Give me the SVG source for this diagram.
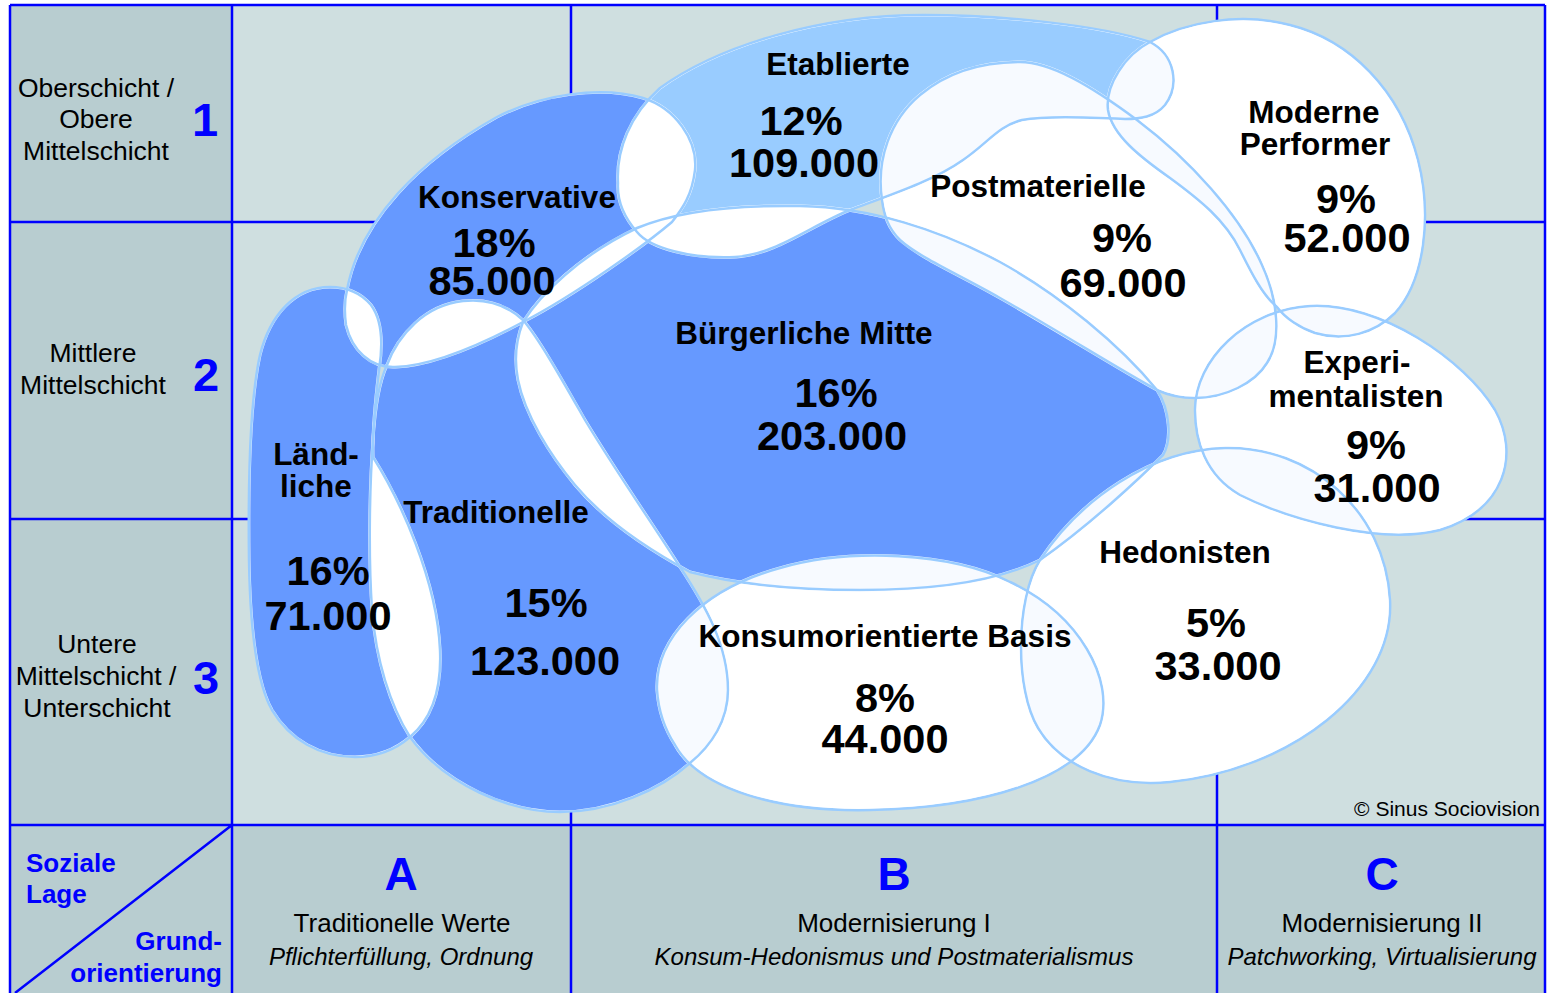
<svg xmlns="http://www.w3.org/2000/svg" xmlns:xlink="http://www.w3.org/1999/xlink" width="1547" height="993" viewBox="0 0 1547 993">
<style>
text{font-family:"Liberation Sans",Arial,Helvetica,sans-serif;}
.lbl{font-weight:bold;font-size:31.5px;text-anchor:middle;fill:#000;}
.num{font-weight:bold;font-size:41.5px;text-anchor:middle;fill:#000;}
.row{font-size:26.5px;text-anchor:middle;fill:#000;}
.rn{font-weight:bold;font-size:47px;text-anchor:middle;fill:#0000ff;}
.cl{font-weight:bold;font-size:46px;text-anchor:middle;fill:#0000ff;}
.ct{font-size:26px;text-anchor:middle;fill:#000;}
.cs{font-size:24px;font-style:italic;text-anchor:middle;fill:#000;}
.cor{font-weight:bold;font-size:26px;fill:#0000ff;}
.cp{font-size:21px;text-anchor:end;fill:#000;}
.grid{stroke:#0000ff;stroke-width:2.5;fill:none;}
.ol{fill:none;stroke:#99ccff;stroke-width:2.5;}
.mw{fill:#fff;stroke:#000;stroke-width:3;}
.mb{fill:#000;stroke:#000;stroke-width:3;}
.blue{fill:#6699ff;}
.lblue{fill:#99ccff;}
.white{fill:#ffffff;}
</style>
<defs>
<path id="pL" d="M 330,287 C 345,287 360,292 371,305 C 382,320 383,345 379,370 C 376,395 372,430 373,457 C 400,500 437,580 440,650 C 442,695 428,722 410,737 C 395,750 375,757 355,757 C 320,757 290,740 272,710 C 255,680 250,620 249,560 C 248,480 250,400 260,355 C 270,315 295,287 330,287 Z"/>
<path id="pT" d="M 387,365 C 398,335 425,305 463,301 C 490,298 510,308 523,320 C 540,340 565,385 585,420 C 615,470 650,520 680,567 C 705,605 728,645 728,690 C 728,720 712,745 690,763 C 660,790 610,812 560,812 C 510,812 445,785 410,737 C 390,705 376,660 372,610 C 368,550 370,480 373,440 C 375,405 380,380 387,365 Z"/>
<path id="pK" d="M 347,290 C 360,220 420,160 497,117 C 540,95 600,85 643,98 C 675,108 698,140 695,170 C 692,195 683,208 672,222 C 645,245 575,295 523,322 C 480,345 430,366 395,367 C 370,368 352,350 346,325 C 344,310 345,298 347,290 Z"/>
<path id="pE" d="M 618,183 C 616,150 630,115 660,88 C 720,45 820,15 924,15 C 1000,15 1100,25 1150,42 C 1175,55 1180,85 1165,105 C 1155,117 1140,119 1125,119 C 1080,117 1045,116 1022,120 C 998,126 988,143 963,160 C 935,180 893,194 850,210 C 810,226 775,255 735,257 C 690,259 650,248 637,232 C 622,215 617,200 618,183 Z"/>
<path id="pB" d="M 523,322 C 540,295 580,255 637,228 C 680,210 740,205 800,206 C 870,207 940,230 1000,262 C 1060,295 1120,345 1157,390 C 1170,410 1172,440 1163,455 C 1140,478 1090,525 1040,560 C 1000,580 940,590 860,590 C 800,590 740,585 690,572 C 640,545 600,515 575,485 C 550,455 525,415 518,380 C 514,360 516,340 523,322 Z"/>
<path id="pP" d="M 882,200 C 876,160 890,120 920,95 C 950,70 985,62 1020,62 C 1050,62 1090,85 1137,120 C 1190,160 1240,215 1262,265 C 1278,300 1282,340 1267,363 C 1255,383 1225,398 1195,398 C 1180,398 1168,395 1157,390 C 1120,370 1060,332 1000,298 C 960,275 920,258 900,240 C 888,228 884,215 882,200 Z"/>
<path id="pM" d="M 1150,42 C 1185,22 1240,12 1290,25 C 1350,40 1400,90 1418,160 C 1432,215 1425,280 1395,313 C 1375,333 1345,342 1315,333 C 1300,328 1285,318 1277,307 C 1262,295 1250,270 1240,250 C 1225,220 1200,200 1170,178 C 1140,157 1112,135 1108,110 C 1105,85 1125,55 1150,42 Z"/>
<path id="pX" d="M 1195,410 C 1195,360 1245,310 1310,306 C 1380,302 1465,360 1495,410 C 1520,455 1505,510 1440,530 C 1380,545 1290,520 1240,495 C 1205,475 1195,440 1195,410 Z"/>
<path id="pH" d="M 1040,560 C 1080,500 1150,450 1225,448 C 1310,446 1385,510 1390,600 C 1395,690 1290,770 1170,782 C 1110,788 1060,765 1038,728 C 1015,690 1015,600 1040,560 Z"/>
<path id="pKB" d="M 657,690 C 655,640 700,590 780,568 C 850,548 950,552 1010,582 C 1080,615 1115,680 1100,725 C 1080,780 980,808 870,810 C 780,812 700,790 675,745 C 662,725 658,705 657,690 Z"/>
<mask id="mK" maskUnits="userSpaceOnUse" x="0" y="0" width="1547" height="993"><use href="#pK" class="mw"/><use href="#pE" class="mb"/><use href="#pL" class="mb"/><use href="#pT" class="mb"/><use href="#pB" class="mb"/></mask>
<mask id="mE" maskUnits="userSpaceOnUse" x="0" y="0" width="1547" height="993"><use href="#pE" class="mw"/><use href="#pK" class="mb"/><use href="#pB" class="mb"/><use href="#pP" class="mb"/><use href="#pM" class="mb"/></mask>
<mask id="mL" maskUnits="userSpaceOnUse" x="0" y="0" width="1547" height="993"><use href="#pL" class="mw"/><use href="#pK" class="mb"/><use href="#pT" class="mb"/></mask>
<mask id="mT" maskUnits="userSpaceOnUse" x="0" y="0" width="1547" height="993"><use href="#pT" class="mw"/><use href="#pK" class="mb"/><use href="#pL" class="mb"/><use href="#pB" class="mb"/><use href="#pKB" class="mb"/></mask>
<mask id="mB" maskUnits="userSpaceOnUse" x="0" y="0" width="1547" height="993"><use href="#pB" class="mw"/><use href="#pK" class="mb"/><use href="#pE" class="mb"/><use href="#pT" class="mb"/><use href="#pP" class="mb"/><use href="#pKB" class="mb"/><use href="#pH" class="mb"/></mask>
<mask id="mP" maskUnits="userSpaceOnUse" x="0" y="0" width="1547" height="993"><use href="#pP" class="mw"/><use href="#pE" class="mb"/><use href="#pB" class="mb"/><use href="#pM" class="mb"/><use href="#pX" class="mb"/></mask>
<mask id="mM" maskUnits="userSpaceOnUse" x="0" y="0" width="1547" height="993"><use href="#pM" class="mw"/><use href="#pE" class="mb"/><use href="#pP" class="mb"/><use href="#pX" class="mb"/></mask>
<mask id="mX" maskUnits="userSpaceOnUse" x="0" y="0" width="1547" height="993"><use href="#pX" class="mw"/><use href="#pP" class="mb"/><use href="#pM" class="mb"/><use href="#pH" class="mb"/></mask>
<mask id="mH" maskUnits="userSpaceOnUse" x="0" y="0" width="1547" height="993"><use href="#pH" class="mw"/><use href="#pB" class="mb"/><use href="#pX" class="mb"/><use href="#pKB" class="mb"/></mask>
<mask id="mKB" maskUnits="userSpaceOnUse" x="0" y="0" width="1547" height="993"><use href="#pKB" class="mw"/><use href="#pT" class="mb"/><use href="#pB" class="mb"/><use href="#pH" class="mb"/></mask>
</defs>

<rect width="1547" height="993" fill="#ffffff"/>
<g id="grid">
<rect x="10" y="5" width="1535" height="990" fill="#cfdfe0"/>
<rect x="10" y="5" width="222" height="990" fill="#b8cdd0"/>
<rect x="10" y="825" width="1535" height="170" fill="#b8cdd0"/>
<path class="grid" d="M10,5 H1545 M10,5 V993 M1545,5 V993 M232,5 V993 M571,5 V993 M1217,5 V993 M10,222 H1545 M10,519 H1545 M10,825 H1545 M232,825 L15,993"/>
</g>

<g id="row-1">
<text class="row" x="96" y="97">Oberschicht /</text>
<text class="row" x="96" y="128">Obere</text>
<text class="row" x="96" y="160">Mittelschicht</text>
<text class="rn" x="205" y="136">1</text>
</g>
<g id="row-2">
<text class="row" x="93" y="362">Mittlere</text>
<text class="row" x="93" y="394">Mittelschicht</text>
<text class="rn" x="206" y="391">2</text>
</g>
<g id="row-3">
<text class="row" x="97" y="653">Untere</text>
<text class="row" x="96" y="685">Mittelschicht /</text>
<text class="row" x="97" y="717">Unterschicht</text>
<text class="rn" x="206" y="694">3</text>
</g>
<g id="corner">
<text class="cor" x="26" y="872">Soziale</text>
<text class="cor" x="26" y="903">Lage</text>
<text class="cor" x="222" y="950" text-anchor="end">Grund-</text>
<text class="cor" x="222" y="982" text-anchor="end">orientierung</text>
</g>
<g id="col-A">
<text class="cl" x="401" y="890">A</text>
<text class="ct" x="402" y="932">Traditionelle Werte</text>
<text class="cs" x="401" y="965">Pflichterfüllung, Ordnung</text>
</g>
<g id="col-B">
<text class="cl" x="894" y="890">B</text>
<text class="ct" x="894" y="932">Modernisierung I</text>
<text class="cs" x="894" y="965">Konsum-Hedonismus und Postmaterialismus</text>
</g>
<g id="col-C">
<text class="cl" x="1382" y="890">C</text>
<text class="ct" x="1382" y="932">Modernisierung II</text>
<text class="cs" x="1382" y="965">Patchworking, Virtualisierung</text>
</g>
<text id="copyright" class="cp" x="1540" y="816">© Sinus Sociovision</text>

<g id="overlap-areas">
<use href="#pK" fill="#ffffff"/><use href="#pE" fill="#ffffff"/><use href="#pL" fill="#ffffff"/><use href="#pT" fill="#ffffff"/><use href="#pB" fill="#ffffff"/>
<use href="#pP" fill="#f7faff"/><use href="#pM" fill="#f7faff"/><use href="#pX" fill="#f7faff"/><use href="#pH" fill="#f7faff"/><use href="#pKB" fill="#f7faff"/>
</g>
<g id="outlines">
<use href="#pE" class="ol"/><use href="#pB" class="ol"/><use href="#pK" class="ol"/><use href="#pT" class="ol"/><use href="#pL" class="ol"/>
<use href="#pP" class="ol"/><use href="#pM" class="ol"/><use href="#pX" class="ol"/><use href="#pH" class="ol"/><use href="#pKB" class="ol"/>
</g>

<g id="etablierte">
<use href="#pE" class="lblue" mask="url(#mE)"/>
<text class="lbl" x="838" y="75">Etablierte</text>
<text class="num" x="801" y="135">12%</text>
<text class="num" x="804" y="177">109.000</text>
</g>
<g id="buergerliche-mitte">
<use href="#pB" class="blue" mask="url(#mB)"/>
<text class="lbl" x="804" y="344">Bürgerliche Mitte</text>
<text class="num" x="836" y="407">16%</text>
<text class="num" x="832" y="450">203.000</text>
</g>
<g id="konservative">
<use href="#pK" class="blue" mask="url(#mK)"/>
<text class="lbl" x="517" y="208">Konservative</text>
<text class="num" x="494" y="257">18%</text>
<text class="num" x="492" y="295">85.000</text>
</g>
<g id="traditionelle">
<use href="#pT" class="blue" mask="url(#mT)"/>
<text class="lbl" x="496" y="523">Traditionelle</text>
<text class="num" x="546" y="617">15%</text>
<text class="num" x="545" y="675">123.000</text>
</g>
<g id="laendliche">
<use href="#pL" class="blue" mask="url(#mL)"/>
<text class="lbl" x="316" y="465">Länd-</text>
<text class="lbl" x="316" y="497">liche</text>
<text class="num" x="328" y="585">16%</text>
<text class="num" x="328" y="630">71.000</text>
</g>
<g id="postmaterielle">
<use href="#pP" class="white" mask="url(#mP)"/>
<text class="lbl" x="1038" y="197">Postmaterielle</text>
<text class="num" x="1122" y="252">9%</text>
<text class="num" x="1123" y="297">69.000</text>
</g>
<g id="moderne-performer">
<use href="#pM" class="white" mask="url(#mM)"/>
<text class="lbl" x="1314" y="123">Moderne</text>
<text class="lbl" x="1315" y="155">Performer</text>
<text class="num" x="1346" y="213">9%</text>
<text class="num" x="1347" y="252">52.000</text>
</g>
<g id="hedonisten">
<use href="#pH" class="white" mask="url(#mH)"/>
<text class="lbl" x="1185" y="563">Hedonisten</text>
<text class="num" x="1216" y="637">5%</text>
<text class="num" x="1218" y="680">33.000</text>
</g>
<g id="experimentalisten">
<use href="#pX" class="white" mask="url(#mX)"/>
<text class="lbl" x="1357" y="373">Experi-</text>
<text class="lbl" x="1356" y="407">mentalisten</text>
<text class="num" x="1376" y="459">9%</text>
<text class="num" x="1377" y="502">31.000</text>
</g>
<g id="konsumorientierte-basis">
<use href="#pKB" class="white" mask="url(#mKB)"/>
<text class="lbl" x="885" y="647">Konsumorientierte Basis</text>
<text class="num" x="885" y="712">8%</text>
<text class="num" x="885" y="753">44.000</text>
</g>
</svg>
